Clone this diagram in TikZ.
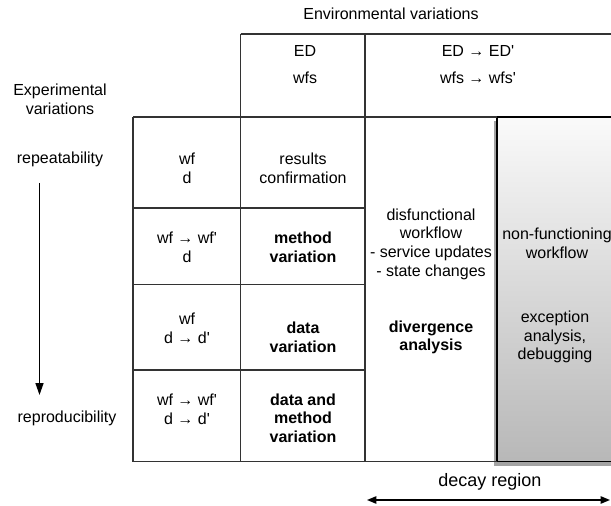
\documentclass[tikz,border=0pt]{standalone}
\usepackage{fontspec}
\setmainfont{Liberation Sans}
\usetikzlibrary{arrows.meta,shadows}

\begin{document}
\begin{tikzpicture}
[x=0.75pt,y=-0.75pt,
 every node/.style={align=center,inner sep=1pt,font=\fontsize{12}{14}\selectfont},
 bold/.style={font=\fontsize{12}{14}\selectfont\bfseries},
 grid/.style={draw=black!80,line width=0.8pt},
 decaybox/.style={shade,top color=black!2,bottom color=black!28,draw=black,line width=1.2pt,
   drop shadow={shadow xshift=-2pt,shadow yshift=-3pt,opacity=.45,fill=black!80}},
 pointer/.style={draw,line width=1.1pt}]
   \useasboundingbox (0,0) rectangle (611,506);
   \path[decaybox] (497,117) rectangle (630,461.5);
   \path[grid] (240.7,34) -- (630,34)
    (240.7,34) -- (240.7,461.5)
    (365,34) -- (365,461.5)
    (133,117) -- (497,117)
    (133,117) -- (133,461.5) -- (497,461.5)
    (133,208) -- (365,208)
    (133,284.5) -- (365,284.5)
    (133,370) -- (365,370);
   \draw[line width=1.2pt] (497,117) -- (630,117);

   \node (env)   at (391,14)  {Environmental variations};
   \node (exp)   at (60,99)   {Experimental\\variations};
   \node (ed)    at (305,51)  {ED};
   \node (wfs)   at (305,78)  {wfs};
   \node (ed_p)  at (478,51)  {ED → ED\textquotesingle};
   \node (wfs_p) at (478,78)  {wfs → wfs\textquotesingle};
   \node (rep)   at (60,159)  {repeatability};
   \node (repro) at (67,418)  {reproducibility};

   \node (in_1)  at (187,168) {wf\\d};
   \node (in_2)  at (187,247) {wf → wf\textquotesingle\\d};
   \node (in_3)  at (187,328) {wf\\d → d\textquotesingle};
   \node (in_4)  at (187,409) {wf → wf\textquotesingle\\d → d\textquotesingle};
   \node (out_1) at (303,168) {results\\confirmation};
   \node[bold] (out_2) at (303,247) {method\\variation};
   \node[bold] (out_3) at (303,337) {data\\variation};
   \node[bold] (out_4) at (303,418) {data and\\method\\variation};

   \node (dis)   at (431,244) {disfunctional\\workflow\\- service updates\\- state changes};
   \node[bold] (div) at (431,337.5) {divergence\\analysis};
   \node (nonf)  at (557,243) {non-functioning\\workflow};
   \node (exc)   at (555,337) {exception\\analysis,\\debugging};
   \node[font=\fontsize{13.5}{16}\selectfont] (decay) at (490,482) {decay region};

   \coordinate (arr_top) at (39.5,183);
   \coordinate (arr_bot) at (39.5,395);
   \coordinate (dec_l)   at (367,500);
   \coordinate (dec_r)   at (610,500);
    \path[pointer]
    (arr_top) edge[-{Triangle[length=9pt,width=6pt]}] (arr_bot)
    (dec_l) edge[{Triangle[length=7pt,width=5.5pt]}-{Triangle[length=7pt,width=5.5pt]}] (dec_r);

\end{tikzpicture}
\end{document}
